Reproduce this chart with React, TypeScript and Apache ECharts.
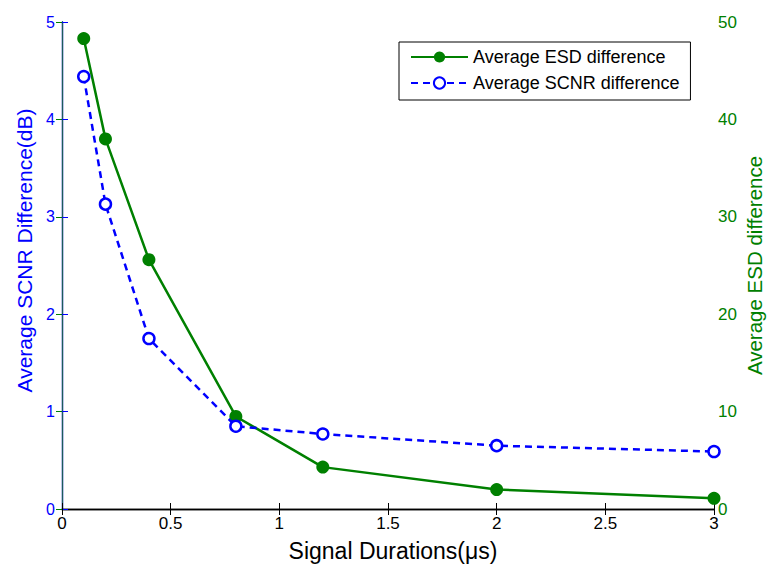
import React, { useEffect, useRef } from "react";
import * as echarts from "echarts";

const durations = [0.1, 0.2, 0.4, 0.8, 1.2, 2, 3];
const esdDiff = [48.3, 38.0, 25.6, 9.5, 4.3, 2.0, 1.1];
const scnrDiff = [4.44, 3.13, 1.75, 0.85, 0.77, 0.65, 0.59];
const seriesNames = ["Average ESD difference", "Average SCNR difference"];

const FONT = "'Liberation Sans', Arial, sans-serif";
const BLUE = "#0000ff";
const GREEN = "#008000";

export default function App() {
  const ref = useRef<HTMLDivElement>(null);
  useEffect(() => {
    if (!ref.current) return;
    document.body.style.margin = "0";
    document.body.style.overflow = "hidden";
    document.documentElement.style.overflow = "hidden";
    const chart = echarts.init(ref.current, null, { renderer: "svg", width: 768, height: 565 });
    chart.setOption({
      animation: false,
      backgroundColor: "#ffffff",
      grid: { left: 62, right: 54, top: 22, bottom: 56, containLabel: false, outerBoundsMode: "none" },
      legend: {
        left: 399,
        top: 42,
        orient: "vertical",
        backgroundColor: "#ffffff",
        borderColor: "#000000",
        borderWidth: 1,
        borderRadius: 0,
        padding: [6, 11, 8, 11],
        itemGap: 8,
        itemWidth: 57,
        itemHeight: 14,
        textStyle: { fontFamily: FONT, fontSize: 18, color: "#000" },
        data: seriesNames,
      },
      xAxis: [
        {
          type: "value",
          min: 0,
          max: 3,
          interval: 0.5,
          position: "bottom",
          name: "Signal Durations(\u03bcs)",
          nameLocation: "middle",
          nameGap: 30,
          nameTextStyle: { fontFamily: FONT, fontSize: 23, color: "#000", padding: [0, 0, 0, 10] },
          axisLine: { lineStyle: { color: "#000", width: 1.3 } },
          axisTick: { inside: true, length: 6, lineStyle: { color: "#000" } },
          axisLabel: { fontFamily: FONT, fontSize: 17, color: "#000", margin: 6 },
          splitLine: { show: false },
        },
        {
          type: "value",
          min: 0,
          max: 3,
          interval: 0.5,
          position: "top",
          axisLine: { lineStyle: { color: "#000", width: 1.3 } },
          axisTick: { inside: true, length: 6, lineStyle: { color: "#000" } },
          axisLabel: { show: false },
          splitLine: { show: false },
        },
      ],
      yAxis: [
        {
          type: "value",
          min: 0,
          max: 5,
          interval: 1,
          position: "left",
          name: "Average SCNR Difference(dB)",
          nameLocation: "middle",
          nameGap: 27,
          nameTextStyle: { fontFamily: FONT, fontSize: 21, color: BLUE, padding: [0, 0, 0, 30] },
          axisLine: { show: true, lineStyle: { color: BLUE, width: 1.3 } },
          axisTick: { show: true, inside: true, length: 6, lineStyle: { color: BLUE } },
          axisLabel: { fontFamily: FONT, fontSize: 16, color: BLUE, margin: 7 },
          splitLine: { show: false },
        },
        {
          type: "value",
          min: 0,
          max: 50,
          interval: 10,
          position: "right",
          name: "Average ESD difference",
          nameLocation: "middle",
          nameGap: 30,
          nameMoveOverlap: false,
          nameTextStyle: { fontFamily: FONT, fontSize: 20.5, color: GREEN },
          axisLine: { show: true, lineStyle: { color: "#1c5c5c", width: 1.3 } },
          axisTick: { show: true, inside: true, length: 6, lineStyle: { color: GREEN } },
          axisLabel: { fontFamily: FONT, fontSize: 17, color: GREEN, margin: 4 },
          splitLine: { show: false },
        },
      ],
      series: [
        {
          name: seriesNames[0],
          type: "line",
          xAxisIndex: 0,
          yAxisIndex: 1,
          data: durations.map((d, i) => [d, esdDiff[i]]),
          symbol: "circle",
          symbolSize: 13,
          itemStyle: { color: GREEN, borderColor: GREEN, borderWidth: 0 },
          lineStyle: { color: GREEN, width: 2.5 },
          z: 3,
        },
        {
          name: seriesNames[1],
          type: "line",
          xAxisIndex: 0,
          yAxisIndex: 0,
          data: durations.map((d, i) => [d, scnrDiff[i]]),
          symbol: "circle",
          symbolSize: 11,
          itemStyle: { color: "#ffffff", borderColor: BLUE, borderWidth: 2.5 },
          lineStyle: { color: BLUE, width: 2.5, type: [7, 5] },
          z: 4,
        },
      ],
    });
    return () => chart.dispose();
  }, []);
  return <div ref={ref} style={{ width: 768, height: 565, position: "absolute", left: 0, top: 0 }} />;
}
